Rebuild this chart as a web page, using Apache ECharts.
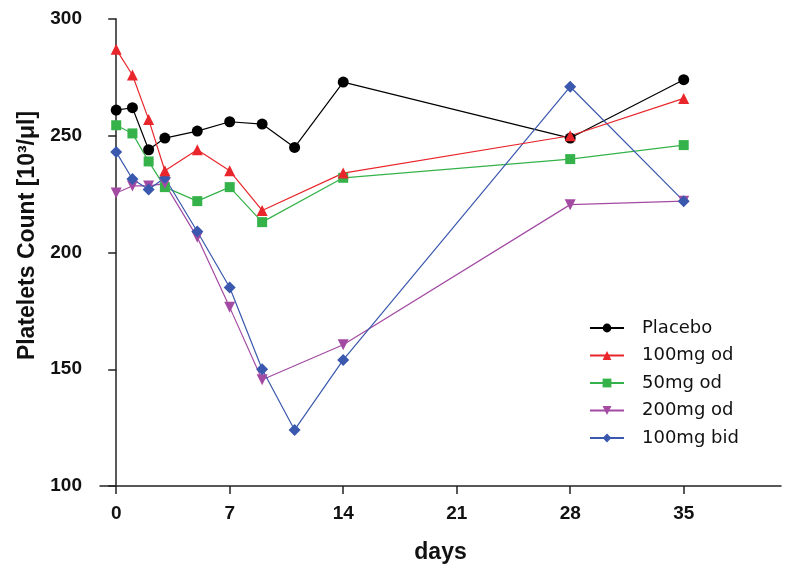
<!DOCTYPE html>
<html>
<head>
<meta charset="utf-8">
<script src="https://cdn.jsdelivr.net/npm/echarts@6/dist/echarts.min.js"></script>
<style>html,body{margin:0;padding:0;background:#fff}#c{width:793px;height:575px}</style>
</head>
<body>
<div id="c"></div>
<script>
const xTicks = [0, 7, 14, 21, 28, 35];
const daysLong = [0, 1, 2, 3, 5, 7, 9, 11, 14, 28, 35];
const daysShort = [0, 1, 2, 3, 5, 7, 9, 14, 28, 35];
const placebo = [261, 262, 244, 249, 252, 256, 255, 245, 273, 249, 274];
const mg100od = [287, 276, 257, 235, 244, 235, 218, 234, 250, 266];
const mg50od = [254.5, 251, 239, 228, 222, 228, 213, 232, 240, 246];
const mg200od = [225.5, 228.5, 228.5, 229.5, 206.5, 176.5, 145.5, 160.5, 220.5, 222];
const mg100bid = [243, 231.5, 227, 232, 209, 185, 150, 124, 154, 271, 222];

function pts(xs, ys) { return xs.map((x, i) => [x, ys[i]]); }

const font = 'Liberation Sans, Arial, sans-serif';
function mk(name, xs, ys, color, symbol, size, rot) {
  return {
    name, type: 'line', data: pts(xs, ys),
    symbol, symbolSize: size, symbolRotate: rot || 0,
    lineStyle: { color, width: 1.2 },
    itemStyle: { color },
    emphasis: { disabled: true },
    animation: false
  };
}

const chart = echarts.init(document.getElementById('c'));
chart.setOption({
  animation: false,
  grid: { left: 100, right: 12, top: 19, bottom: 89 },
  legend: {
    orient: 'vertical', left: 584, top: 314,
    itemWidth: 34, itemHeight: 11, itemGap: 9.5,
    textStyle: { fontFamily: 'DejaVu Sans, sans-serif', fontSize: 18, color: '#111', lineHeight: 16, padding: [0, 0, 0, 13] },
    data: ['Placebo', '100mg od', '50mg od', '200mg od', '100mg bid']
  },
  xAxis: {
    type: 'value', min: -1, max: 41,
    name: 'days', nameLocation: 'middle', nameGap: 55,
    nameTextStyle: { fontFamily: font, fontSize: 23, fontWeight: 'bold', color: '#111' },
    splitLine: { show: false },
    axisLine: { lineStyle: { color: '#222', width: 1.5 } },
    axisTick: { length: 8, lineStyle: { color: '#222', width: 1.5 }, customValues: xTicks },
    axisLabel: { margin: 18, fontFamily: font, fontSize: 19, fontWeight: 'bold', color: '#111', customValues: xTicks }
  },
  yAxis: {
    type: 'value', min: 100, max: 300, interval: 50,
    name: 'Platelets Count [10³/μl]', nameLocation: 'middle', nameGap: 59, nameRotate: 90,
    nameTextStyle: { fontFamily: font, fontSize: 23, fontWeight: 'bold', color: '#111', padding: [0, 0, 0, 34] },
    splitLine: { show: false },
    axisLine: { show: true, lineStyle: { color: '#222', width: 1.5 } },
    axisTick: { show: true, length: 8, lineStyle: { color: '#222', width: 1.5 } },
    axisLabel: { margin: 18, fontFamily: font, fontSize: 19, fontWeight: 'bold', color: '#111' }
  },
  series: [
    mk('Placebo', daysLong, placebo, '#000000', 'circle', 11),
    mk('50mg od', daysShort, mg50od, '#35b34a', 'rect', 10),
    mk('200mg od', daysShort, mg200od, '#a34ba3', 'triangle', 11, 180),
    mk('100mg bid', daysLong, mg100bid, '#3a58ad', 'diamond', 12),
    mk('100mg od', daysShort, mg100od, '#e8262b', 'triangle', 11)
  ]
});
</script>
</body>
</html>
